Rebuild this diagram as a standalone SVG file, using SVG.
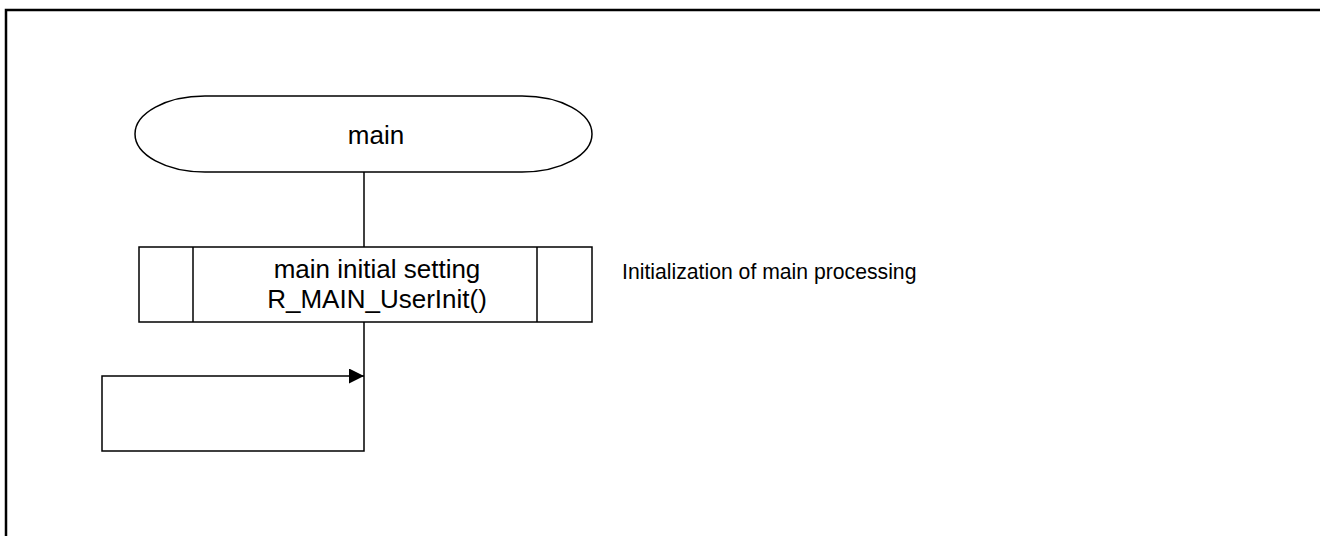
<svg xmlns="http://www.w3.org/2000/svg" width="1320" height="536" viewBox="0 0 1320 536">
<defs>
<style>
.frame{fill:none;stroke:#000;stroke-width:2.5}
.shape{fill:#fff;stroke:#000;stroke-width:1.5}
.conn{fill:none;stroke:#000;stroke-width:1.5}
.big{font-family:"Liberation Sans",Arial,sans-serif;font-size:26px;fill:#000;text-anchor:middle}
.small{font-family:"Liberation Sans",Arial,sans-serif;font-size:21.2px;fill:#000}
</style>
<marker id="arrow" markerWidth="15" markerHeight="15" refX="15" refY="7.5" orient="auto" markerUnits="userSpaceOnUse">
<path d="M0,0 L15,7.5 L0,15 Z" fill="#000"/>
</marker>
</defs>
<rect width="1320" height="536" fill="#fff"/>
<path class="frame" d="M6,536 V10 H1320"/>
<g id="connectors">
<line class="conn" x1="364" y1="172" x2="364" y2="247"/>
<path class="conn" d="M364,322 V451 H102 V376 H364" marker-end="url(#arrow)"/>
</g>
<g id="node-main">
<rect class="shape" x="135" y="96" width="457" height="76" rx="70" ry="38"/>
<text class="big" x="376" y="144">main</text>
</g>
<g id="node-init">
<rect class="shape" x="139" y="247" width="453" height="75"/>
<line class="shape" x1="193" y1="247" x2="193" y2="322"/>
<line class="shape" x1="537" y1="247" x2="537" y2="322"/>
<text class="big" x="377" y="278">main initial setting</text>
<text class="big" x="377" y="308">R_MAIN_UserInit()</text>
</g>
<g id="note-init">
<text class="small" x="622" y="279">Initialization of main processing</text>
</g>
</svg>
